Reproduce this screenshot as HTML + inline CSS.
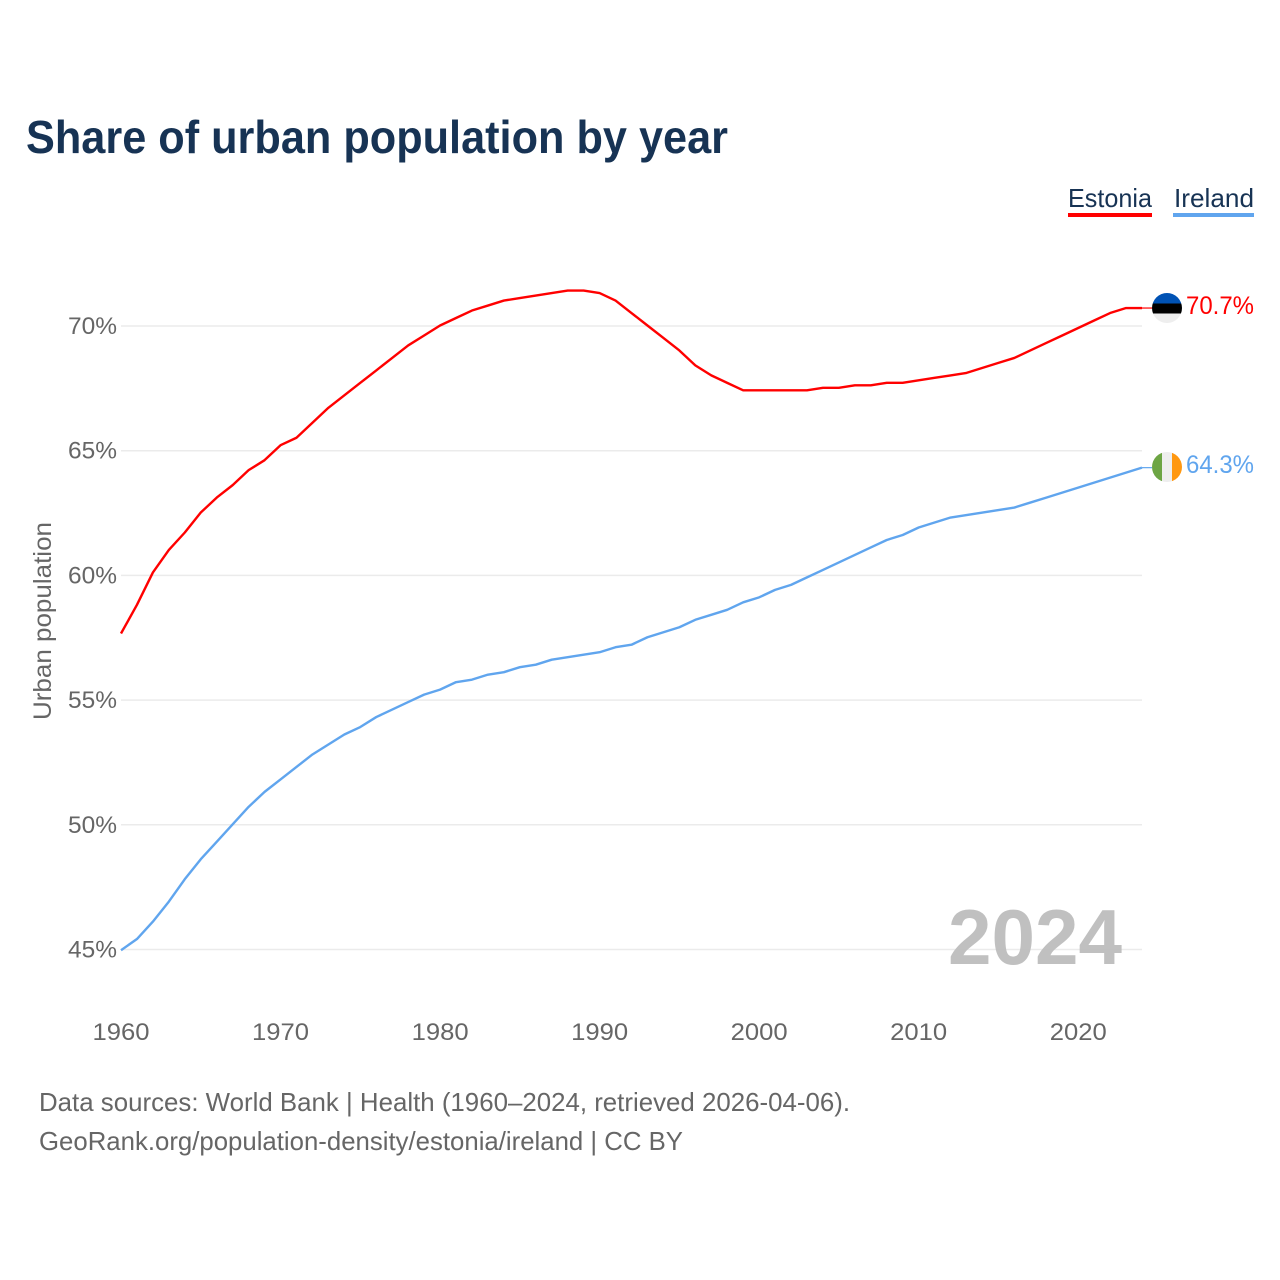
<!DOCTYPE html>
<html lang="en">
<head>
<meta charset="utf-8">
<title>Share of urban population by year</title>
<style>
html,body{margin:0;padding:0;background:#fff;width:1280px;height:1280px;overflow:hidden}
svg{display:block;font-family:"Liberation Sans",sans-serif}
</style>
</head>
<body>
<svg id="chart" xmlns="http://www.w3.org/2000/svg" width="1280" height="1280" viewBox="0 0 1280 1280">
  <rect x="0" y="0" width="1280" height="1280" fill="#fff"/>
  <text x="26" y="153" font-size="46" font-weight="700" fill="#173354" textLength="702" lengthAdjust="spacingAndGlyphs">Share of urban population by year</text>

  <g>
    <text x="1068" y="207" font-size="26" fill="#173354" textLength="84" lengthAdjust="spacingAndGlyphs">Estonia</text>
    <rect x="1068" y="213" width="84" height="4" fill="#ff0000"/>
  </g>
  <g>
    <text x="1174" y="207" font-size="26" fill="#173354" textLength="80" lengthAdjust="spacingAndGlyphs">Ireland</text>
    <rect x="1173" y="213" width="81" height="4" fill="#60a5ee"/>
  </g>

  <g id="grid"></g>
  <g id="yticks"></g>
  <g id="xticks"></g>

  <text transform="translate(51 720) rotate(-90)" font-size="25" fill="#666" textLength="198" lengthAdjust="spacingAndGlyphs">Urban population</text>

  <text x="948" y="964" font-size="78" font-weight="700" fill="#bdbdbd" fill-opacity="0.95" textLength="174" lengthAdjust="spacingAndGlyphs">2024</text>

  <g id="series" transform="translate(0 -0.5)"></g>

  <defs>
    <clipPath id="clip-estonia"><circle cx="1167" cy="308" r="15"/></clipPath>
    <clipPath id="clip-ireland"><circle cx="1167" cy="467" r="15"/></clipPath>
  </defs>
  <g id="flag-estonia" clip-path="url(#clip-estonia)">
    <rect x="1152" y="293" width="30" height="10.5" fill="#0052b4"/>
    <rect x="1152" y="303.5" width="30" height="10" fill="#000"/>
    <rect x="1152" y="313.5" width="30" height="10" fill="#eeeeee"/>
  </g>
  <g id="flag-ireland" clip-path="url(#clip-ireland)">
    <rect x="1152" y="452" width="10" height="30" fill="#6da544"/>
    <rect x="1162" y="452" width="10" height="30" fill="#eeeeee"/>
    <rect x="1172" y="452" width="10" height="30" fill="#ff9811"/>
  </g>

  <text id="value-estonia" x="1186" y="314" font-size="25" fill="#ff0000" textLength="68" lengthAdjust="spacingAndGlyphs"></text>
  <text id="value-ireland" x="1186" y="473" font-size="25" fill="#60a5ee" textLength="68" lengthAdjust="spacingAndGlyphs"></text>

  <text x="39" y="1111" font-size="26" fill="#666" textLength="811" lengthAdjust="spacingAndGlyphs">Data sources: World Bank | Health (1960–2024, retrieved 2026-04-06).</text>
  <text x="39" y="1150" font-size="26" fill="#666" textLength="644" lengthAdjust="spacingAndGlyphs">GeoRank.org/population-density/estonia/ireland | CC BY</text>
</svg>
<script>
const years = [1960,1961,1962,1963,1964,1965,1966,1967,1968,1969,1970,1971,1972,1973,1974,1975,1976,1977,1978,1979,1980,1981,1982,1983,1984,1985,1986,1987,1988,1989,1990,1991,1992,1993,1994,1995,1996,1997,1998,1999,2000,2001,2002,2003,2004,2005,2006,2007,2008,2009,2010,2011,2012,2013,2014,2015,2016,2017,2018,2019,2020,2021,2022,2023,2024];
const estonia = [57.65,58.8,60.1,61.0,61.7,62.5,63.1,63.6,64.2,64.6,65.2,65.5,66.1,66.7,67.2,67.7,68.2,68.7,69.2,69.6,70.0,70.3,70.6,70.8,71.0,71.1,71.2,71.3,71.4,71.4,71.3,71.0,70.5,70.0,69.5,69.0,68.4,68.0,67.7,67.4,67.4,67.4,67.4,67.4,67.5,67.5,67.6,67.6,67.7,67.7,67.8,67.9,68.0,68.1,68.3,68.5,68.7,69.0,69.3,69.6,69.9,70.2,70.5,70.7,70.7];
const ireland = [44.95,45.4,46.1,46.9,47.8,48.6,49.3,50.0,50.7,51.3,51.8,52.3,52.8,53.2,53.6,53.9,54.3,54.6,54.9,55.2,55.4,55.7,55.8,56.0,56.1,56.3,56.4,56.6,56.7,56.8,56.9,57.1,57.2,57.5,57.7,57.9,58.2,58.4,58.6,58.9,59.1,59.4,59.6,59.9,60.2,60.5,60.8,61.1,61.4,61.6,61.9,62.1,62.3,62.4,62.5,62.6,62.7,62.9,63.1,63.3,63.5,63.7,63.9,64.1,64.3];
const yTickValues = [45,50,55,60,65,70];
const xTickValues = [1960,1970,1980,1990,2000,2010,2020];

const NS = 'http://www.w3.org/2000/svg';
function xScale(year){ return 121 + (year - 1960) * (1142 - 121) / 64; }
function yScale(value){ return 949.5 - (value - 45) * (949.5 - 326) / 25; }
function make(tag, parent){
  const el = document.createElementNS(NS, tag);
  parent.appendChild(el);
  return el;
}

const gridGroup = document.getElementById('grid');
const yGroup = document.getElementById('yticks');
const xGroup = document.getElementById('xticks');
const seriesGroup = document.getElementById('series');

yTickValues.forEach(function(v){
  const line = make('line', gridGroup);
  
  
  line.setAttribute('x1', xScale(1960));
  line.setAttribute('x2', xScale(2024));
  line.setAttribute('y1', yScale(v));
  line.setAttribute('y2', yScale(v));
  line.setAttribute('stroke', '#ebebeb');
  line.setAttribute('stroke-width', '1.5');

  const label = make('text', yGroup);
  
  
  label.setAttribute('x', 68);
  label.setAttribute('y', yScale(v) + 8);
  label.setAttribute('font-size', '24');
  label.setAttribute('fill', '#666');
  label.setAttribute('textLength', '49');
  label.setAttribute('lengthAdjust', 'spacingAndGlyphs');
  label.textContent = v + '%';
});

xTickValues.forEach(function(y){
  const label = make('text', xGroup);
  
  
  label.setAttribute('x', xScale(y) - 28.5);
  label.setAttribute('y', 1040);
  label.setAttribute('font-size', '24');
  label.setAttribute('fill', '#666');
  label.setAttribute('textLength', '57');
  label.setAttribute('lengthAdjust', 'spacingAndGlyphs');
  label.textContent = y;
});

function drawSeries(values, color, group){
  const d = values.map(function(v, i){
    return (i ? 'L' : 'M') + xScale(years[i]).toFixed(2) + ' ' + yScale(v).toFixed(2);
  }).join(' ');
  const last = values[values.length - 1];
  const path = make('path', group);
  
  
  path.setAttribute('d', d);
  path.setAttribute('fill', 'none');
  path.setAttribute('stroke', color);
  path.setAttribute('stroke-width', '2.4');
  path.setAttribute('stroke-linejoin', 'round');

  const leader = make('line', group);
  
  
  leader.setAttribute('x1', xScale(2024));
  leader.setAttribute('x2', xScale(2024) + 10);
  leader.setAttribute('y1', yScale(last));
  leader.setAttribute('y2', yScale(last));
  leader.setAttribute('stroke', color);
  leader.setAttribute('stroke-width', '1.2');
}
drawSeries(estonia, '#ff0000', seriesGroup);
drawSeries(ireland, '#60a5ee', seriesGroup);

document.getElementById('value-estonia').textContent = estonia[estonia.length - 1].toFixed(1) + '%';
document.getElementById('value-ireland').textContent = ireland[ireland.length - 1].toFixed(1) + '%';
</script>
</body>
</html>
